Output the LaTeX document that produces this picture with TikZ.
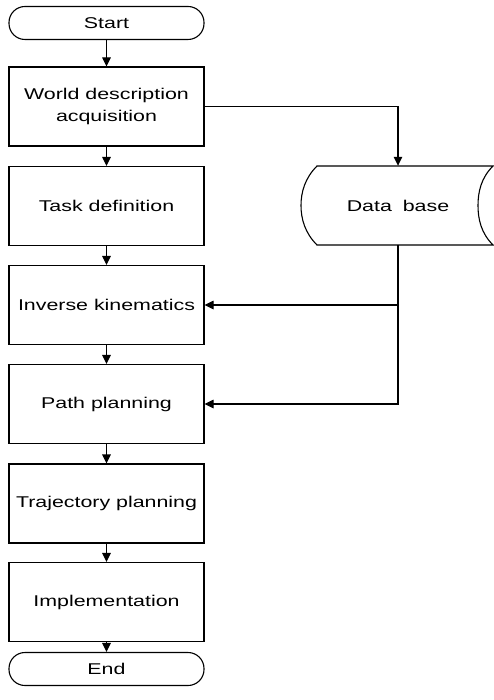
\documentclass[tikz,border=0pt]{standalone}
\usepackage{fontspec}
\setmainfont{Liberation Sans}[FakeStretch=1.37]
\usetikzlibrary{arrows.meta}
\begin{document}
\begin{tikzpicture}[x=1pt,y=-1pt,
  every node/.style={font=\fontsize{15.6}{22}\selectfont},
  box/.style={draw, line width=1.1pt, minimum width=195pt, minimum height=79pt,
    inner sep=0pt, align=center},
  term/.style={draw, line width=1.1pt, rounded corners=16pt, minimum width=195pt,
    minimum height=33pt, inner sep=0pt},
  flow/.style={line width=1.1pt, -{Triangle[length=9pt,width=8.5pt]}},
  outline/.style={line width=1.1pt}]
\useasboundingbox (0,0) rectangle (493,700);

% main column
\node[term] (start) at (106.5,23)    {Start};
\node[box]  (world) at (106.5,106.5) {World description\\acquisition};
\node[box]  (task)  at (106.5,206)   {Task definition};
\node[box]  (inv)   at (106.5,305)   {Inverse kinematics};
\node[box]  (path)  at (106.5,404)   {Path planning};
\node[box]  (traj)  at (106.5,503.5) {Trajectory planning};
\node[box]  (impl)  at (106.5,602)   {Implementation};
\node[term] (end)   at (106.5,669)   {End};

% stored data symbol
\node[minimum width=160pt, minimum height=79pt, inner sep=0pt] (db) at (398,205.5) {Data\hspace{0.7em}base};
\draw[outline] (317,166) -- (493,166)
  .. controls (481,178) and (478,192) .. (478,205.5)
  .. controls (478,219) and (481,233) .. (493,245)
  -- (317,245)
  .. controls (305,233) and (301,219) .. (301,205.5)
  .. controls (301,192) and (305,178) .. (317,166) -- cycle;

% flow connectors
\draw[flow] (start) -- (world);
\draw[flow] (world) -- (task);
\draw[flow] (task) -- (inv);
\draw[flow] (inv) -- (path);
\draw[flow] (path) -- (traj);
\draw[flow] (traj) -- (impl);
\draw[flow] (impl) -- (end);

% data base links
\draw[flow] (world.east) -| (db.north);
\draw[flow] (db.south) |- (inv.east);
\draw[flow] (db.south) |- (path.east);
\end{tikzpicture}
\end{document}
